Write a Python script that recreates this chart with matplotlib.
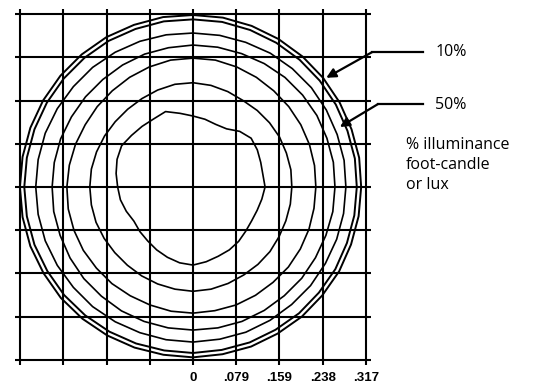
import numpy as np
import matplotlib
matplotlib.use("Agg")
import matplotlib.pyplot as plt

# grid step (one cell) and labelled distances on the x axis
step = 0.0792
tick_labels = ["0", ".079", ".159", ".238", ".317"]

# contour radii, every 10 degrees starting at 3 o'clock
angles = np.arange(0, 360, 10)

band_outer = [0.308, 0.309, 0.309, 0.310, 0.311, 0.312, 0.313, 0.314, 0.315, 0.315, 0.316, 0.316,
              0.317, 0.317, 0.317, 0.317, 0.317, 0.317, 0.317, 0.317, 0.317, 0.316, 0.316, 0.315,
              0.314, 0.313, 0.312, 0.312, 0.311, 0.311, 0.310, 0.310, 0.309, 0.309, 0.308, 0.308]
band_inner = [0.300, 0.301, 0.301, 0.302, 0.303, 0.304, 0.305, 0.306, 0.307, 0.307, 0.308, 0.308,
              0.309, 0.309, 0.309, 0.309, 0.309, 0.309, 0.309, 0.309, 0.309, 0.308, 0.308, 0.307,
              0.306, 0.305, 0.304, 0.304, 0.303, 0.303, 0.302, 0.302, 0.301, 0.301, 0.300, 0.300]
c1 = [0.280, 0.281, 0.281, 0.282, 0.283, 0.283, 0.283, 0.282, 0.282, 0.282, 0.283, 0.284,
      0.285, 0.286, 0.286, 0.287, 0.288, 0.288, 0.288, 0.288, 0.288, 0.287, 0.286, 0.286,
      0.285, 0.284, 0.284, 0.284, 0.283, 0.283, 0.282, 0.281, 0.281, 0.280, 0.280, 0.280]
c2 = [0.260, 0.261, 0.261, 0.262, 0.262, 0.262, 0.261, 0.260, 0.260, 0.260, 0.259, 0.259,
      0.258, 0.257, 0.257, 0.257, 0.258, 0.258, 0.258, 0.259, 0.259, 0.260, 0.261, 0.261,
      0.262, 0.262, 0.262, 0.262, 0.262, 0.262, 0.261, 0.260, 0.260, 0.259, 0.259, 0.260]
c3 = [0.225, 0.226, 0.227, 0.228, 0.229, 0.230, 0.232, 0.234, 0.236, 0.236, 0.236, 0.234,
      0.232, 0.230, 0.229, 0.228, 0.229, 0.230, 0.231, 0.232, 0.232, 0.232, 0.231, 0.231,
      0.230, 0.230, 0.231, 0.231, 0.230, 0.230, 0.229, 0.228, 0.228, 0.227, 0.226, 0.225]
c4 = [0.181, 0.182, 0.182, 0.183, 0.183, 0.183, 0.183, 0.186, 0.189, 0.191, 0.191, 0.189,
      0.187, 0.186, 0.186, 0.187, 0.188, 0.189, 0.189, 0.189, 0.189, 0.188, 0.187, 0.187,
      0.188, 0.189, 0.190, 0.191, 0.190, 0.188, 0.186, 0.185, 0.184, 0.182, 0.181, 0.181]
c5 = [0.132, 0.130, 0.132, 0.136, 0.139, 0.133, 0.123, 0.122, 0.126, 0.130, 0.137, 0.147,
      0.144, 0.145, 0.147, 0.151, 0.148, 0.143, 0.138, 0.135, 0.130, 0.125, 0.127, 0.129,
      0.133, 0.137, 0.141, 0.143, 0.139, 0.135, 0.133, 0.130, 0.126, 0.124, 0.125, 0.128]

contours = [band_outer, band_inner, c1, c2, c3, c4, c5]

fig = plt.figure(figsize=(5.36, 3.84), dpi=100)
lim = 4 * step + 0.0092
ax = fig.add_axes([15 / 536, 19 / 384, 356 / 536, 356 / 384])
ax.set_xlim(-lim, lim)
ax.set_ylim(-lim, lim)
ax.set_aspect("equal", adjustable="box")

# grid
grid = np.arange(-4, 5) * step
ax.hlines(grid, -lim, lim, color="black", lw=1.5)
ax.vlines(grid, -lim, lim, color="black", lw=1.5)

# contours (outer band a bit heavier)
th = np.deg2rad(np.append(angles, angles[0]))
for i, r in enumerate(contours):
    rr = np.append(r, r[0])
    ax.plot(rr * np.cos(th), rr * np.sin(th), color="black", lw=1.4 if i < 2 else 1.2)

for s in ax.spines.values():
    s.set_visible(False)
ax.set_yticks([])
ax.set_xticks(np.arange(0, 5) * step, tick_labels)
ax.tick_params(axis="x", length=0, pad=5)
for t in ax.get_xticklabels():
    t.set_fontfamily("Liberation Sans")
    t.set_fontweight("bold")
    t.set_fontsize(9.5)

# callouts
ap = dict(arrowstyle="-|>", color="black", lw=1.6, mutation_scale=14, shrinkA=0, shrinkB=0)
ax.annotate("", xy=(0.244, 0.200), xytext=(0.328, 0.247), arrowprops=ap, annotation_clip=False)
ax.annotate("", xy=(0.269, 0.110), xytext=(0.339, 0.152), arrowprops=ap, annotation_clip=False)
ax.plot([0.328, 0.422], [0.247, 0.247], color="black", lw=1.6, clip_on=False)
ax.plot([0.339, 0.422], [0.152, 0.152], color="black", lw=1.6, clip_on=False)

font = "Open Sans"
ax.text(0.444, 0.247, "10%", fontsize=11.5, family=font, va="center", ha="left")
ax.text(0.444, 0.150, "50%", fontsize=11.5, family=font, va="center", ha="left")
ax.text(0.390, 0.092, "% illuminance\nfoot-candle\nor lux", fontsize=11.5, family=font,
        va="top", ha="left", linespacing=1.36)

fig.savefig("out.png", dpi=100)
